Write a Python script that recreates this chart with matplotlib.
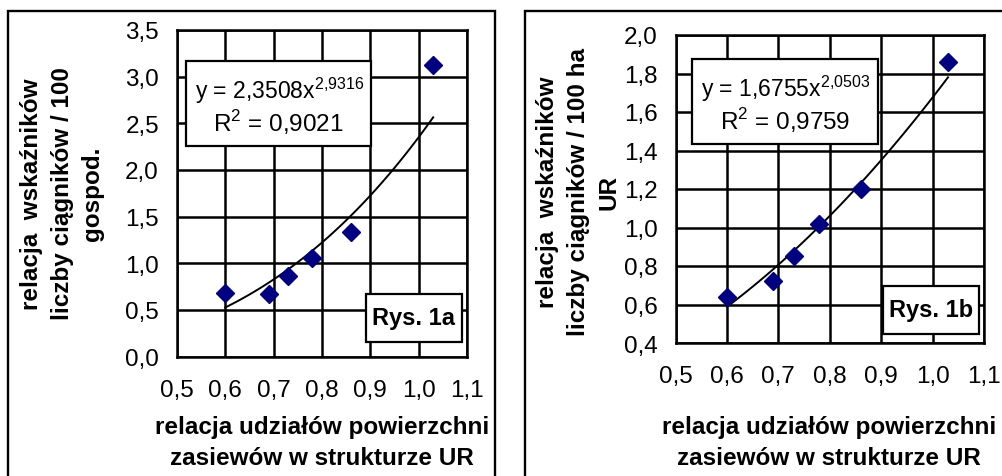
import numpy as np
import matplotlib
matplotlib.use("Agg")
import matplotlib.pyplot as plt
from matplotlib.patches import Rectangle
from matplotlib.ticker import FuncFormatter

plt.rcParams['font.family'] = ['Liberation Sans', 'DejaVu Sans']
plt.rcParams['mathtext.fontset'] = 'custom'
plt.rcParams['mathtext.rm'] = 'Liberation Sans'

# data
x_share = [0.60, 0.69, 0.73, 0.78, 0.86, 1.03]
y_tractors_farm = [0.68, 0.67, 0.86, 1.06, 1.33, 3.12]
y_tractors_ha = [0.64, 0.72, 0.85, 1.02, 1.20, 1.86]

# trend lines as printed on the chart: y = a * x^b
fit_a = [2.3508, 1.6755]
fit_b = [2.9316, 2.0503]
fit_b_txt = ['2{,}9316', '2{,}0503']
r2_txt = ['0,9021', '0,9759']

x_ticks = [0.5, 0.6, 0.7, 0.8, 0.9, 1.0, 1.1]
y_ticks_a = [0.0, 0.5, 1.0, 1.5, 2.0, 2.5, 3.0, 3.5]
y_ticks_b = [0.4, 0.6, 0.8, 1.0, 1.2, 1.4, 1.6, 1.8, 2.0]

ylabels = ['relacja  wskaźników\nliczby ciągników / 100\ngospod.',
           'relacja  wskaźników\nliczby ciągników / 100 ha\nUR']
xlabel = 'relacja udziałów powierzchni\nzasiewów w strukturze UR'
tags = ['Rys. 1a', 'Rys. 1b']

W, H = 1002, 477
fig = plt.figure(figsize=(W / 100, H / 100), dpi=100)


def fx(px):
    return px / W


def fy(py):
    return 1 - py / H


def box(x0, y0, x1, y1, lw=1.6):
    r = Rectangle((fx(x0), fy(y1)), fx(x1) - fx(x0), fy(y0) - fy(y1),
                  transform=fig.transFigure, facecolor='white',
                  edgecolor='black', lw=lw, zorder=10)
    fig.add_artist(r)


comma = FuncFormatter(lambda v, p: ('%.1f' % v).replace('.', ','))

# panel frames
fig.add_artist(Rectangle((fx(7.5), fy(490)), fx(495) - fx(7.5), fy(11.5) - fy(490),
                         transform=fig.transFigure, fill=False, lw=1.7, edgecolor='black'))
fig.add_artist(Rectangle((fx(525), fy(490)), fx(1020) - fx(525), fy(11.5) - fy(490),
                         transform=fig.transFigure, fill=False, lw=1.7, edgecolor='black'))

# pixel layout of each panel: axes box, equation box, tag box, ylabel x
panels = [
    dict(ax=(177, 31, 467, 357.5), yt=y_ticks_a, y=y_tractors_farm,
         eq=(186, 62, 371, 147), tag=(366, 295, 462, 343), ylx=62, yly=194, xlx=322),
    dict(ax=(675.5, 36, 984, 344), yt=y_ticks_b, y=y_tractors_ha,
         eq=(692, 60, 878, 145), tag=(883, 287, 979, 335), ylx=578, yly=192, xlx=829),
]

for i, p in enumerate(panels):
    x0, y0, x1, y1 = p['ax']
    ax = fig.add_axes([fx(x0), fy(y1), fx(x1) - fx(x0), fy(y0) - fy(y1)])
    ax.set_xlim(0.5, 1.1)
    ax.set_ylim(p['yt'][0], p['yt'][-1])
    ax.set_xticks(x_ticks)
    ax.set_yticks(p['yt'])
    ax.xaxis.set_major_formatter(comma)
    ax.yaxis.set_major_formatter(comma)
    ax.tick_params(length=0, labelsize=17.5)
    ax.tick_params(axis='x', pad=16)
    ax.tick_params(axis='y', pad=13)
    ax.grid(True, color='black', lw=1.8)
    ax.set_axisbelow(True)
    for s in ax.spines.values():
        s.set_linewidth(1.8)

    xs = np.linspace(min(x_share), max(x_share), 100)
    ax.plot(xs, fit_a[i] * xs ** fit_b[i], color='black', lw=1.4, zorder=3)
    ax.plot(x_share, p['y'], linestyle='none', marker='D', ms=9.5,
            color='#000080', zorder=4, clip_on=False)

    # equation box
    ex0, ey0, ex1, ey1 = p['eq']
    box(ex0, ey0, ex1, ey1)
    a_txt = ('%.4f' % fit_a[i]).replace('.', ',')
    fig.text(fx((ex0 + ex1) / 2 + 1), fy(ey0 + 29),
             'y = ' + a_txt + 'x$^{\\mathregular{' + fit_b_txt[i] + '}}$',
             ha='center', va='center', fontsize=16.5, zorder=11)
    fig.text(fx((ex0 + ex1) / 2), fy(ey0 + 61),
             'R$^{\\mathregular{2}}$ = ' + r2_txt[i],
             ha='center', va='center', fontsize=17.5, zorder=11)

    # tag box
    tx0, ty0, tx1, ty1 = p['tag']
    box(tx0, ty0, tx1, ty1)
    fig.text(fx((tx0 + tx1) / 2), fy((ty0 + ty1) / 2), tags[i],
             ha='center', va='center', fontsize=17, fontweight='bold', zorder=11)

    fig.text(fx(p['ylx']), fy(p['yly']), ylabels[i], rotation=90,
             ha='center', va='center', fontsize=17.5, fontweight='bold',
             multialignment='center', linespacing=1.42)
    fig.text(fx(p['xlx']), fy(443), xlabel, ha='center', va='center',
             fontsize=17.5, fontweight='bold', multialignment='center',
             linespacing=1.42)

fig.savefig('out.png', dpi=100)
